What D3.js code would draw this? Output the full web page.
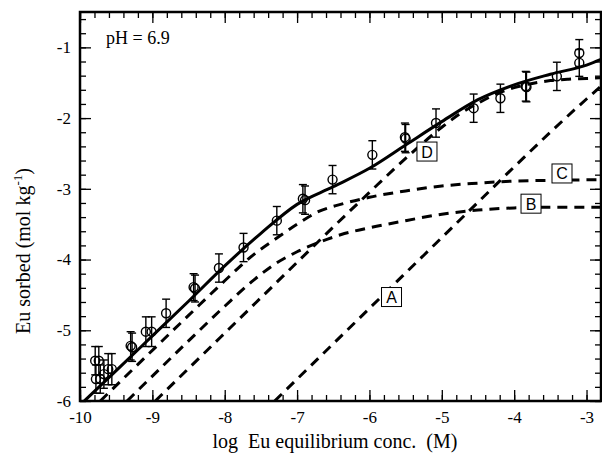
<!DOCTYPE html>
<html>
<head>
<meta charset="utf-8">
<script src="https://cdn.jsdelivr.net/npm/d3@7"></script>
<style>
  html, body { margin: 0; padding: 0; background: #fff; }
  svg { display: block; }
  text { font-family: "Liberation Serif", "Times New Roman", serif; fill: #000; }
  text.site { font-family: "Liberation Sans", Arial, sans-serif; }
</style>
</head>
<body>
<svg id="chart" width="602" height="460"></svg>
<script>
// Measured Eu sorption (log mol/kg) vs log equilibrium concentration (M)
const obsLogC = [-9.79, -9.74, -9.61, -9.56, -9.78, -9.72, -9.67,
                 -9.30, -9.28, -9.09, -9.01, -8.81, -8.43, -8.41, -8.08, -7.74, -7.28,
                 -6.92, -6.89, -6.51, -5.96, -5.51, -5.50, -5.08, -4.56, -4.19,
                 -3.84, -3.83, -3.41, -3.10, -3.10];
const obsLogS = [-5.43, -5.43, -5.55, -5.55, -5.69, -5.69, -5.62,
                 -5.22, -5.24, -5.02, -5.02, -4.76, -4.39, -4.41, -4.12, -3.83, -3.45,
                 -3.14, -3.16, -2.87, -2.52, -2.27, -2.29, -2.07, -1.86, -1.72,
                 -1.55, -1.56, -1.41, -1.22, -1.08];
const obsErr  = [0.20, 0.20, 0.22, 0.22, 0.20, 0.20, 0.20,
                 0.20, 0.20, 0.21, 0.21, 0.20, 0.19, 0.19, 0.20, 0.20, 0.20,
                 0.20, 0.20, 0.20, 0.20, 0.20, 0.20, 0.20, 0.20, 0.20,
                 0.21, 0.21, 0.20, 0.19, 0.19];

// Model: total sorption (solid)
const totalX = [-9.94, -9.5, -9.0, -8.5, -8.0, -7.5, -7.0, -6.5, -6.0, -5.5, -5.0, -4.5, -4.0, -3.5, -3.0, -2.8];
const totalY = [-6.00, -5.57, -5.08, -4.59, -4.09, -3.63, -3.22, -2.97, -2.71, -2.38, -2.05, -1.74, -1.53, -1.38, -1.25, -1.17];

// Model: individual site contributions (dashed)
const siteA_x = [-7.31, -6.5, -6.0, -5.5, -5.0, -4.5, -4.0, -3.5, -3.0, -2.8];
const siteA_y = [-6.00, -5.19, -4.69, -4.19, -3.69, -3.19, -2.69, -2.20, -1.73, -1.55];

const siteB_x = [-9.35, -8.5, -8.0, -7.6, -7.3, -7.0, -6.73, -6.4, -6.0, -5.6, -5.0, -4.5, -4.0, -3.5, -2.8];
const siteB_y = [-6.00, -5.15, -4.66, -4.29, -4.06, -3.89, -3.77, -3.65, -3.55, -3.47, -3.36, -3.30, -3.27, -3.26, -3.26];

const siteC_x = [-9.72, -8.5, -8.0, -7.6, -7.3, -7.0, -6.7, -6.4, -6.0, -5.5, -5.0, -4.5, -4.0, -3.5, -2.8];
const siteC_y = [-6.00, -4.79, -4.30, -3.93, -3.71, -3.50, -3.32, -3.22, -3.12, -3.03, -2.96, -2.92, -2.89, -2.88, -2.87];

const siteD_x = [-8.96, -8.0, -7.0, -6.5, -6.0, -5.5, -5.0, -4.75, -4.5, -4.25, -4.0, -3.75, -3.5, -3.25, -3.0, -2.8];
const siteD_y = [-6.00, -5.04, -4.04, -3.54, -3.05, -2.57, -2.13, -1.94, -1.79, -1.66, -1.57, -1.51, -1.47, -1.45, -1.44, -1.43];

const siteNames = ["A", "B", "C", "D"];

const xMajor = [-10, -9, -8, -7, -6, -5, -4, -3];
const yMajor = [-6, -5, -4, -3, -2, -1];

const svg = d3.select("#chart");
const L = 80, R = 601, T = 12, B = 401;

const x = d3.scaleLinear().domain([-10, -2.8]).range([L, R]);
const y = d3.scaleLinear().domain([-6, -0.5]).range([B, T]);

const xMinor = d3.range(-10, -2.79, 0.2).map(v => +v.toFixed(1));
const yMinor = d3.range(-6, -0.49, 0.2).map(v => +v.toFixed(1));

// clip region for the curves
svg.append("defs").append("clipPath").attr("id", "plotClip")
  .append("rect").attr("x", L).attr("y", T).attr("width", R - L).attr("height", B - T);

const fmt = d => d3.format("d")(d).replace("−", "-");

// ticks on all four sides, pointing inward
function addAxis(gen, transform, labels) {
  const g = svg.append("g").attr("transform", transform).call(gen);
  g.select(".domain").remove();
  g.selectAll(".tick line").attr("stroke", "#000").attr("stroke-width", 1.3);
  if (!labels) g.selectAll(".tick text").remove();
  return g;
}

addAxis(d3.axisBottom(x).tickValues(xMinor).tickSize(-6).tickFormat(""), `translate(0,${B})`, false);
addAxis(d3.axisTop(x).tickValues(xMinor).tickSize(-6).tickFormat(""), `translate(0,${T})`, false);
addAxis(d3.axisLeft(y).tickValues(yMinor).tickSize(-6).tickFormat(""), `translate(${L},0)`, false);
addAxis(d3.axisRight(y).tickValues(yMinor).tickSize(-6).tickFormat(""), `translate(${R},0)`, false);

const bx = addAxis(d3.axisBottom(x).tickValues(xMajor).tickSize(-11).tickPadding(10).tickFormat(fmt), `translate(0,${B})`, true);
bx.selectAll(".tick text").style("font-size", "17px").attr("fill", "#000");
addAxis(d3.axisTop(x).tickValues(xMajor).tickSize(-11).tickFormat(""), `translate(0,${T})`, false);
const ly = addAxis(d3.axisLeft(y).tickValues(yMajor).tickSize(-11).tickPadding(9).tickFormat(fmt), `translate(${L},0)`, true);
ly.selectAll(".tick text").style("font-size", "17px").attr("fill", "#000");
addAxis(d3.axisRight(y).tickValues(yMajor).tickSize(-11).tickFormat(""), `translate(${R},0)`, false);

// frame
svg.append("rect").attr("x", L).attr("y", T).attr("width", R - L).attr("height", B - T)
  .attr("fill", "none").attr("stroke", "#000").attr("stroke-width", 2.5);

const plot = svg.append("g").attr("clip-path", "url(#plotClip)");
const line = d3.line().x(d => x(d[0])).y(d => y(d[1])).curve(d3.curveMonotoneX);

const sites = [
  [siteA_x, siteA_y], [siteB_x, siteB_y], [siteC_x, siteC_y], [siteD_x, siteD_y]
];
sites.forEach(([xs, ys]) => {
  plot.append("path").datum(d3.zip(xs, ys)).attr("d", line)
    .attr("fill", "none").attr("stroke", "#000").attr("stroke-width", 3)
    .attr("stroke-dasharray", "10,7");
});

plot.append("path").datum(d3.zip(totalX, totalY)).attr("d", line)
  .attr("fill", "none").attr("stroke", "#000").attr("stroke-width", 3);

// error bars and points
const pts = d3.zip(obsLogC, obsLogS, obsErr);
const eb = plot.append("g").attr("stroke", "#000").attr("stroke-width", 1.4).attr("fill", "none");
pts.forEach(([c, s, e]) => {
  const px = x(c), y0 = y(s - e), y1 = y(s + e);
  eb.append("line").attr("x1", px).attr("x2", px).attr("y1", y0).attr("y2", y1);
  eb.append("line").attr("x1", px - 4).attr("x2", px + 4).attr("y1", y0).attr("y2", y0);
  eb.append("line").attr("x1", px - 4).attr("x2", px + 4).attr("y1", y1).attr("y2", y1);
});
plot.append("g").selectAll("circle").data(pts).join("circle")
  .attr("cx", d => x(d[0])).attr("cy", d => y(d[1])).attr("r", 4.5)
  .attr("fill", "none").attr("stroke", "#000").attr("stroke-width", 1.4);

// site labels in boxes
const labelPos = { A: [-5.695, -4.53], B: [-3.767, -3.21], C: [-3.339, -2.783], D: [-5.205, -2.473] };
siteNames.forEach(n => {
  const [cx, cy] = labelPos[n];
  const g = svg.append("g").attr("transform", `translate(${x(cx)},${y(cy)})`);
  g.append("rect").attr("x", -10).attr("y", -9.5).attr("width", 20).attr("height", 19)
    .attr("fill", "#fff").attr("stroke", "#000").attr("stroke-width", 1);
  g.append("text").attr("class", "site").attr("text-anchor", "middle").attr("y", 6)
    .style("font-size", "16px").text(n);
});

svg.append("text").attr("x", 106).attr("y", 44).style("font-size", "18px").text("pH = 6.9");

svg.append("text").attr("x", 335).attr("y", 448).attr("text-anchor", "middle")
  .style("font-size", "20px").style("white-space", "pre").text("log  Eu equilibrium conc.  (M)");

const yt = svg.append("text").attr("transform", "translate(30,251) rotate(-90)")
  .attr("text-anchor", "middle").style("font-size", "20px");
yt.append("tspan").text("Eu sorbed (mol kg");
yt.append("tspan").style("font-size", "13px").attr("dy", -8).text("-1");
yt.append("tspan").attr("dy", 8).text(")");
</script>
</body>
</html>
